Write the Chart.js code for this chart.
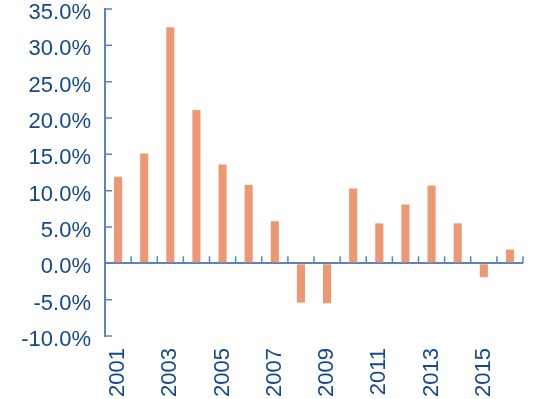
<!DOCTYPE html>
<html>
<head>
<meta charset="utf-8">
<script src="https://cdn.jsdelivr.net/npm/chart.js@4/dist/chart.umd.min.js"></script>
<style>
  html, body { margin: 0; padding: 0; background: #fff; }
  #wrap { width: 535px; height: 399px; }
</style>
</head>
<body>
<div id="wrap"><canvas id="myChart"></canvas></div>
<script>
const years = ['2001', '2002', '2003', '2004', '2005', '2006', '2007', '2008',
  '2009', '2010', '2011', '2012', '2013', '2014', '2015', '2016'];
const growth = [11.9, 15.1, 32.5, 21.1, 13.6, 10.8, 5.8, -5.4,
  -5.5, 10.3, 5.5, 8.1, 10.7, 5.5, -1.9, 1.9];
const yTicks = [-10, -5, 0, 5, 10, 15, 20, 25, 30, 35];

const axisClr = 'rgb(88, 134, 188)';
const labelClr = 'rgb(20, 72, 140)';
const barClr = 'rgb(237, 152, 114)';

// small inward tick marks like the original
const tickMarks = {
  id: 'tickMarks',
  afterDatasetsDraw(chart) {
    const { ctx, chartArea, scales } = chart;
    const x = scales.x;
    const y = scales.y;
    const zero = y.getPixelForValue(0);
    const step = x.getPixelForValue(1) - x.getPixelForValue(0);
    ctx.save();
    ctx.strokeStyle = axisClr;
    ctx.lineWidth = 1.5;
    ctx.beginPath();
    yTicks.forEach((v) => {
      const py = y.getPixelForValue(v);
      ctx.moveTo(chartArea.left, py);
      ctx.lineTo(chartArea.left + 7, py);
    });
    for (let i = 0; i <= years.length; i++) {
      const px = i < years.length ? x.getPixelForValue(i) - step / 2 : chartArea.right;
      ctx.moveTo(px, zero);
      ctx.lineTo(px, zero - 7);
    }
    ctx.stroke();
    ctx.restore();
  },
};

const ctx = document.getElementById('myChart').getContext('2d');
const chart = new Chart(ctx, {
  type: 'bar',
  data: {
    labels: years,
    datasets: [{
      data: growth,
      backgroundColor: barClr,
      barPercentage: 0.31,
      categoryPercentage: 1,
    }],
  },
  options: {
    responsive: true,
    maintainAspectRatio: false,
    animation: false,
    layout: { padding: { top: 9, right: 12, left: 0, bottom: 0 } },
    plugins: { legend: { display: false }, tooltip: { enabled: false } },
    scales: {
      x: {
        grid: { display: false },
        border: { display: false },
        ticks: {
          autoSkip: false,
          maxRotation: 90,
          minRotation: 90,
          padding: 4,
          color: labelClr,
          font: { family: 'Liberation Sans, Arial, sans-serif', size: 22 },
          callback: (val, i) => (i % 2 === 0 ? years[i] : ''),
        },
        afterFit: (s) => { s.height = 63; s.paddingLeft = 0; s.paddingRight = 0; },
      },
      y: {
        min: -10,
        max: 35,
        afterBuildTicks: (s) => { s.ticks = yTicks.map((v) => ({ value: v })); },
        grid: {
          drawTicks: false,
          color: (c) => (c.tick && c.tick.value === 0 ? axisClr : 'rgba(0,0,0,0)'),
          lineWidth: 2,
        },
        border: { color: axisClr, width: 2 },
        ticks: {
          padding: 14,
          labelOffset: 4,
          color: labelClr,
          font: { family: 'Liberation Sans, Arial, sans-serif', size: 22 },
          callback: (v) => `${v.toFixed(1)}%`,
        },
        afterFit: (s) => { s.width = 105; s.paddingTop = 0; s.paddingBottom = 0; },
      },
    },
  },
  plugins: [tickMarks],
});
</script>
</body>
</html>
